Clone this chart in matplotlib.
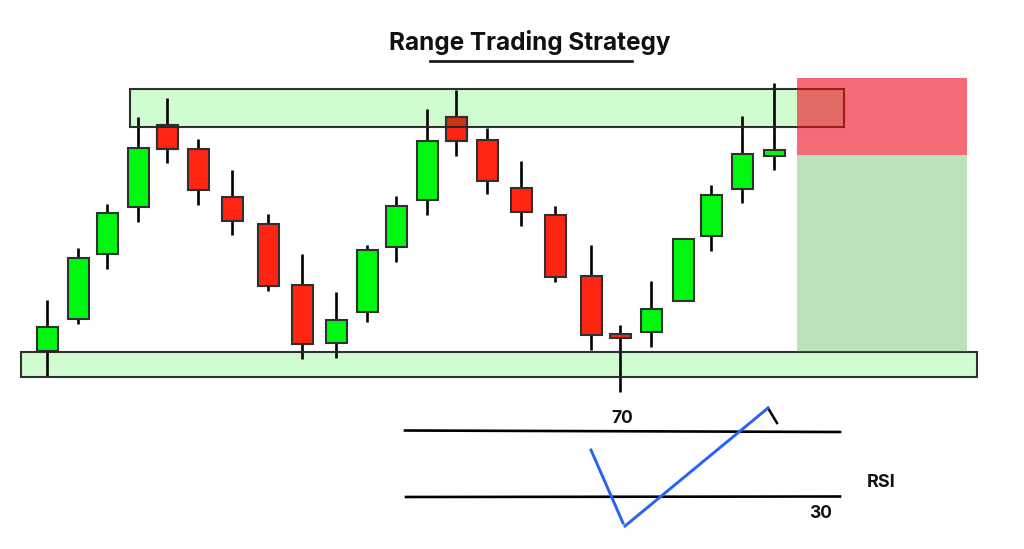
import matplotlib
matplotlib.use("Agg")
import matplotlib.pyplot as plt
from matplotlib.patches import Rectangle

candle_x = [47, 78, 107, 138, 167, 198, 232, 268, 302, 336, 367, 396,
            427, 456, 487, 521, 555, 591, 620, 651, 683, 711, 742, 774]
wick_high = [300, 248, 204, 117, 98, 139, 170, 214, 254, 292, 245, 196,
             109, 90, 128, 161, 206, 245, 325, 281, 239, 185, 116, 83]
wick_low = [376, 324, 269, 222, 163, 205, 235, 291, 359, 358, 322, 262,
            215, 156, 194, 226, 282, 350, 392, 347, 301, 251, 203, 170]
body_top = [327, 258, 213, 148, 125, 149, 197, 224, 285, 320, 250, 206,
            141, 117, 140, 188, 215, 276, 334, 309, 239, 195, 154, 150]
body_bottom = [351, 319, 254, 207, 149, 190, 221, 286, 344, 343, 312, 247,
               200, 141, 181, 212, 277, 335, 338, 332, 301, 236, 189, 156]
candle_dir = ["up", "up", "up", "up", "down", "down", "down", "down", "down", "up", "up", "up",
              "up", "down", "down", "down", "down", "down", "down", "up", "up", "up", "up", "up"]

zone_upper_x = [130, 844]
zone_upper_y = [89, 127]
zone_lower_x = [21, 977]
zone_lower_y = [352, 377]
stop_x = [797, 967]
stop_y = [78, 155]
target_y = [155, 352]

rsi_70_x = [405, 840]
rsi_70_y = [430.5, 432]
rsi_30_x = [406, 840]
rsi_30_y = [497, 496.5]
rsi_a_x = [591, 623]
rsi_a_y = [450, 523]
rsi_b_x = [625, 768]
rsi_b_y = [526, 408]
rsi_c_x = [768, 777]
rsi_c_y = [408, 423]

title_text = "Range Trading Strategy"
underline_x = [430, 632]
underline_y = [61, 61]

plt.rcParams["font.family"] = ["Inter", "DejaVu Sans"]
fig = plt.figure(figsize=(10.24, 5.49), dpi=100)
ax = fig.add_axes([0, 0, 1, 1])
ax.set_xlim(0, 1024)
ax.set_ylim(549, 0)
ax.axis("off")


def box(xs, ys, face, edge, lw, z):
    ax.add_patch(Rectangle((xs[0], ys[0]), xs[1] - xs[0], ys[1] - ys[0],
                           facecolor=face, edgecolor=edge, linewidth=lw, zorder=z))


# Zone fills lie under the candles, their outlines over them
zone_fill = "#d0fdd0"
zone_edge = (0.15, 0.15, 0.15, 0.95)
box(zone_upper_x, zone_upper_y, zone_fill, "none", 0, 1)
box(zone_lower_x, zone_lower_y, zone_fill, "none", 0, 1)

# Candles
ax.vlines(candle_x, wick_high, wick_low, color="black", lw=1.9, zorder=2)
colors = {"up": "#00f810", "down": "#ff2512"}
ax.bar(candle_x, [b - t for t, b in zip(body_top, body_bottom)], bottom=body_top,
       width=21, color=[colors[d] for d in candle_dir],
       edgecolor="#303030", linewidth=1.5, zorder=3)

# Where a red body runs into the upper zone it is tinted darker
for x, t, b, d in zip(candle_x, body_top, body_bottom, candle_dir):
    if d == "down" and t < zone_upper_y[1]:
        ax.bar(x, min(b, zone_upper_y[1]) - t, bottom=t, width=21,
               color="#cc3318", edgecolor="none", linewidth=0, zorder=3.5)
        ax.bar(x, b - t, bottom=t, width=21, color="none",
               edgecolor="#303030", linewidth=1.5, zorder=3.6)

box(zone_upper_x, zone_upper_y, "none", zone_edge, 1.5, 4)
box(zone_lower_x, zone_lower_y, "none", zone_edge, 1.5, 4)

# Stop and target areas
box(stop_x, stop_y, (238 / 255, 8 / 255, 25 / 255, 0.6), "none", 0, 5)
box(stop_x, target_y, (36 / 255, 160 / 255, 36 / 255, 0.3), "none", 0, 5)

# RSI panel
ax.plot(rsi_70_x, rsi_70_y, color="black", lw=1.9, zorder=2)
ax.plot(rsi_30_x, rsi_30_y, color="black", lw=1.9, zorder=2)
ax.plot(rsi_c_x, rsi_c_y, color="black", lw=1.8, zorder=2)
ax.plot(rsi_a_x, rsi_a_y, color="#2962f5", lw=2.1, zorder=3)
ax.plot(rsi_b_x, rsi_b_y, color="#2962f5", lw=2.1, zorder=3)

# Text
ax.text(530, 42.5, title_text, ha="center", va="center", fontsize=17.5, fontweight="bold", color="#111111")
ax.plot(underline_x, underline_y, color="#111111", lw=1.9)
ax.text(622.5, 418.5, "70", ha="center", va="center", fontsize=12.5, fontweight="bold", color="#111111")
ax.text(820.5, 514, "30", ha="center", va="center", fontsize=12.5, fontweight="bold", color="#111111")
ax.text(881, 482.5, "RSI", ha="center", va="center", fontsize=13, fontweight="bold", color="#111111")

fig.savefig("out.png", dpi=100)
